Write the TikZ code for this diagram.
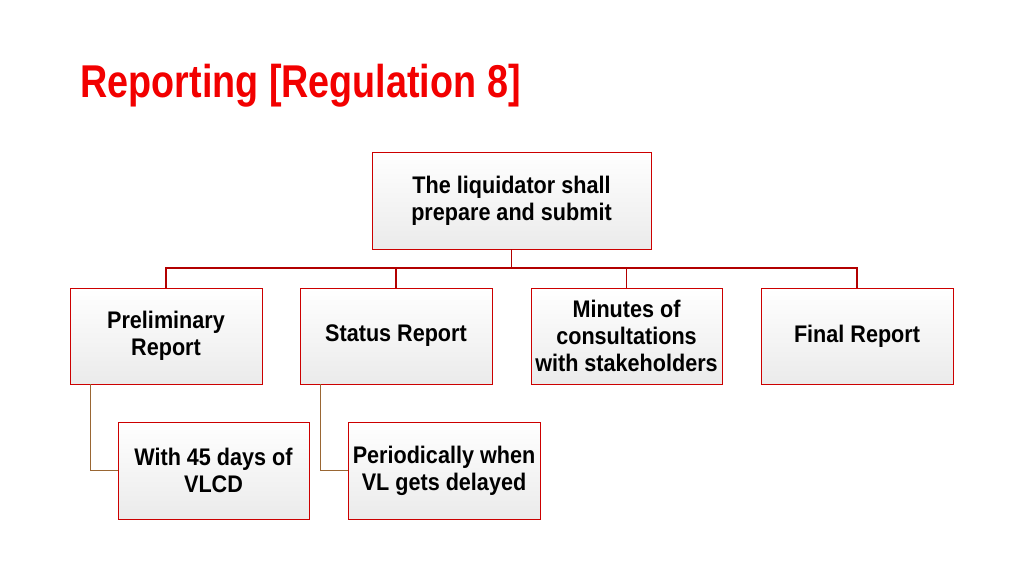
\documentclass[tikz,border=0pt]{standalone}
\usepackage{fontspec}
\setmainfont{Liberation Sans}
\newfontfamily\narrow[FakeStretch=0.82]{Liberation Sans}
\newfontfamily\narrowb[FakeStretch=0.9]{Liberation Sans}
\begin{document}
\begin{tikzpicture}[x=1pt,y=-1pt,
  bx/.style={draw=red!80!black,line width=0.9pt,top color=white,bottom color=black!8,
    font=\narrowb\bfseries\fontsize{24}{27}\selectfont,align=center,inner sep=0pt},
  conn/.style={draw=red!70!black,line width=1.4pt},
  sub/.style={draw=brown!80!black,line width=1pt}]
\useasboundingbox (0,0) rectangle (1024,576);
\node[anchor=west,text=red!95!black,font=\narrow\bfseries\fontsize{46}{52}\selectfont] (title) at (77,86) {Reporting [Regulation 8]};
\node[bx,minimum width=279,minimum height=97] (top) at (511.5,200.5) {The liquidator shall\\prepare and submit};
\node[bx,minimum width=192,minimum height=96] (a) at (166,336) {Preliminary\\Report};
\node[bx,minimum width=192,minimum height=96] (b) at (396,336) {Status Report};
\node[bx,minimum width=191,minimum height=96] (c) at (626.5,336) {Minutes of\\consultations\\with stakeholders};
\node[bx,minimum width=192,minimum height=96] (d) at (857,336) {Final Report};
\node[bx,minimum width=191,minimum height=97] (e) at (213.5,470.5) {With 45 days of\\VLCD};
\node[bx,minimum width=192,minimum height=97] (f) at (444,470.5) {Periodically when\\VL gets delayed};
\coordinate (j) at (511.5,268);
\draw[conn] (top.south) -- (j);
\foreach \n in {a,b,c,d} \draw[conn] (j) -| (\n.north);
\draw[sub] ([xshift=-76pt]a.south) |- (e.west);
\draw[sub] ([xshift=-76pt]b.south) |- (f.west);
\end{tikzpicture}
\end{document}
